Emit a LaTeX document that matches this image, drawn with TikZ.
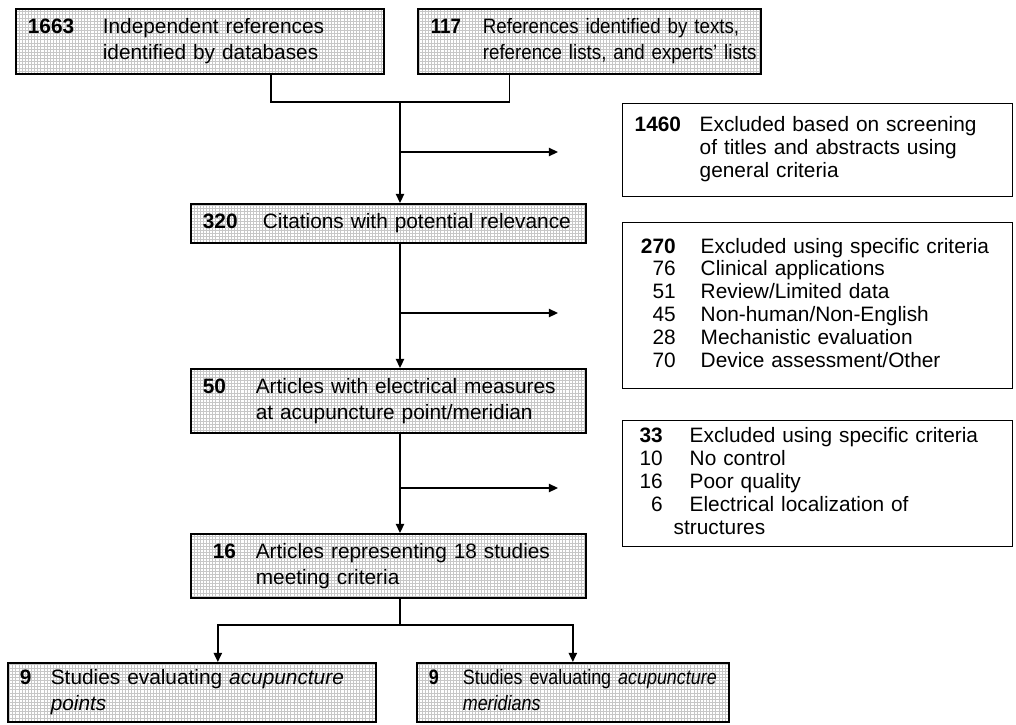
\documentclass[tikz,border=0pt]{standalone}
\usepackage{fontspec}
\setmainfont{Liberation Sans}
\newfontfamily\condfont[FakeStretch=0.9]{Liberation Sans}
\newfontfamily\tightfont[FakeStretch=0.86]{Liberation Sans}
\usepackage{array}
\usepackage{tikz}
\usetikzlibrary{patterns}
\usetikzlibrary{arrows.meta}

\newlength{\pxu}
\setlength{\pxu}{0.48pt}

\pgfdeclarepatternformonly{meshgrid}{\pgfpoint{-0.2pt}{-0.2pt}}{\pgfpoint{1.7pt}{1.7pt}}{\pgfpoint{1.5pt}{1.5pt}}{
  \pgfsetlinewidth{0.2pt}
  \pgfpathmoveto{\pgfpointorigin}\pgfpathlineto{\pgfpoint{1.5pt}{0pt}}
  \pgfpathmoveto{\pgfpointorigin}\pgfpathlineto{\pgfpoint{0pt}{1.5pt}}
  \pgfusepath{stroke}}

\begin{document}
\begin{tikzpicture}[x=0.48pt, y=-0.48pt,
    greybox/.style={draw, line width=0.8pt, preaction={fill=white}, pattern=meshgrid,
      pattern color=black!22, anchor=north west, inner xsep=12\pxu, inner ysep=0pt,
      align=left, font=\fontsize{10}{12.5}\selectfont},
    exclbox/.style={draw, line width=0.7pt, fill=white, anchor=north west,
      inner xsep=12\pxu, inner ysep=0pt, align=left, font=\fontsize{10}{11}\selectfont},
    flow/.style={line width=0.7pt},
    flowarrow/.style={flow, -{Triangle[length=4.4pt,width=4pt]}}]
    \useasboundingbox (0,0) rectangle (1016,724);

    % sources
    \node[greybox, text width=344\pxu, minimum height=65\pxu] (dbrefs) at (15,8)
      {\begin{tabular}{@{}p{75\pxu}@{}l@{}}\textbf{1663} & Independent references\\ & identified by databases\end{tabular}};
    \node[greybox, text width=317\pxu, minimum height=65\pxu, inner xsep=13\pxu] (listrefs) at (417,8)
      {\condfont\begin{tabular}{@{}p{52\pxu}@{}l@{}}\textbf{117} & References identified by texts,\\ & reference lists, and experts’ lists\end{tabular}};

    % main column
    \node[greybox, text width=371\pxu, minimum height=39\pxu] (cites) at (190,203)
      {\begin{tabular}{@{}p{60\pxu}@{}l@{}}\textbf{320} & Citations with potential relevance\end{tabular}};
    \node[greybox, text width=371\pxu, minimum height=64\pxu] (elec) at (190,368)
      {\begin{tabular}{@{}p{53\pxu}@{}l@{}}\textbf{50} & Articles with electrical measures\\ & at acupuncture point/meridian\end{tabular}};
    \node[greybox, text width=371\pxu, minimum height=64\pxu] (meet) at (190,533)
      {\begin{tabular}{@{}p{53\pxu}@{}l@{}}\hspace*{10\pxu}\textbf{16} & Articles representing 18 studies\\ & meeting criteria\end{tabular}};
    \node[greybox, text width=344\pxu, minimum height=59\pxu] (points) at (7,662)
      {\begin{tabular}{@{}p{31\pxu}@{}l@{}}\textbf{9} & Studies evaluating \textit{acupuncture}\\ & \textit{points}\end{tabular}};
    \node[greybox, text width=288\pxu, minimum height=59\pxu] (meridians) at (416,662)
      {\tightfont\begin{tabular}{@{}p{34\pxu}@{}l@{}}\textbf{9} & Studies evaluating \textit{acupuncture}\\ & \textit{meridians}\end{tabular}};

    % exclusions
    \node[exclbox, text width=366\pxu, minimum height=93\pxu] (screen) at (622,103)
      {\begin{tabular}{@{}p{65\pxu}@{}l@{}}\textbf{1460} & Excluded based on screening\\ & of titles and abstracts using\\ & general criteria\end{tabular}};
    \node[exclbox, text width=366\pxu, minimum height=166\pxu] (specific) at (622,222)
      {\begin{tabular}{@{}>{\raggedleft\arraybackslash}p{41\pxu}@{\hspace{25\pxu}}l@{}}
        \textbf{270} & Excluded using specific criteria\\
        76 & Clinical applications\\
        51 & Review/Limited data\\
        45 & Non-human/Non-English\\
        28 & Mechanistic evaluation\\
        70 & Device assessment/Other\end{tabular}};
    \node[exclbox, text width=366\pxu, minimum height=126\pxu] (quality) at (622,420)
      {\begin{tabular}{@{}>{\raggedleft\arraybackslash}p{28\pxu}@{\hspace{27\pxu}}l@{}}
        \textbf{33} & Excluded using specific criteria\\
        10 & No control\\
        16 & Poor quality\\
        6 & Electrical localization of\\
        \multicolumn{2}{@{}l@{}}{\hspace*{39\pxu}structures}\end{tabular}};

    % connectors
    \coordinate (merge) at (400,102);
    \coordinate (cut1) at (400,152);
    \coordinate (cut2) at (400,313);
    \coordinate (cut3) at (400,488);
    \coordinate (split) at (400,625);
    \draw[flow] ([xshift=71\pxu]dbrefs.south) |- (merge);
    \draw[flow] ([xshift=-80\pxu]listrefs.south) |- (merge);
    \draw[flowarrow] (merge) -- (merge |- cites.north);
    \draw[flowarrow] (merge |- cites.south) -- (merge |- elec.north);
    \draw[flowarrow] (merge |- elec.south) -- (merge |- meet.north);
    \draw[flowarrow, shorten >=64\pxu] (cut1) -- (cut1 -| screen.west);
    \draw[flowarrow, shorten >=64\pxu] (cut2) -- (cut2 -| specific.west);
    \draw[flowarrow, shorten >=64\pxu] (cut3) -- (cut3 -| quality.west);
    \draw[flow] (merge |- meet.south) -- (split);
    \draw[flowarrow] (split) -| ([xshift=26\pxu]points.north);
    \draw[flowarrow] (split) -| (meridians.north);
\end{tikzpicture}
\end{document}
